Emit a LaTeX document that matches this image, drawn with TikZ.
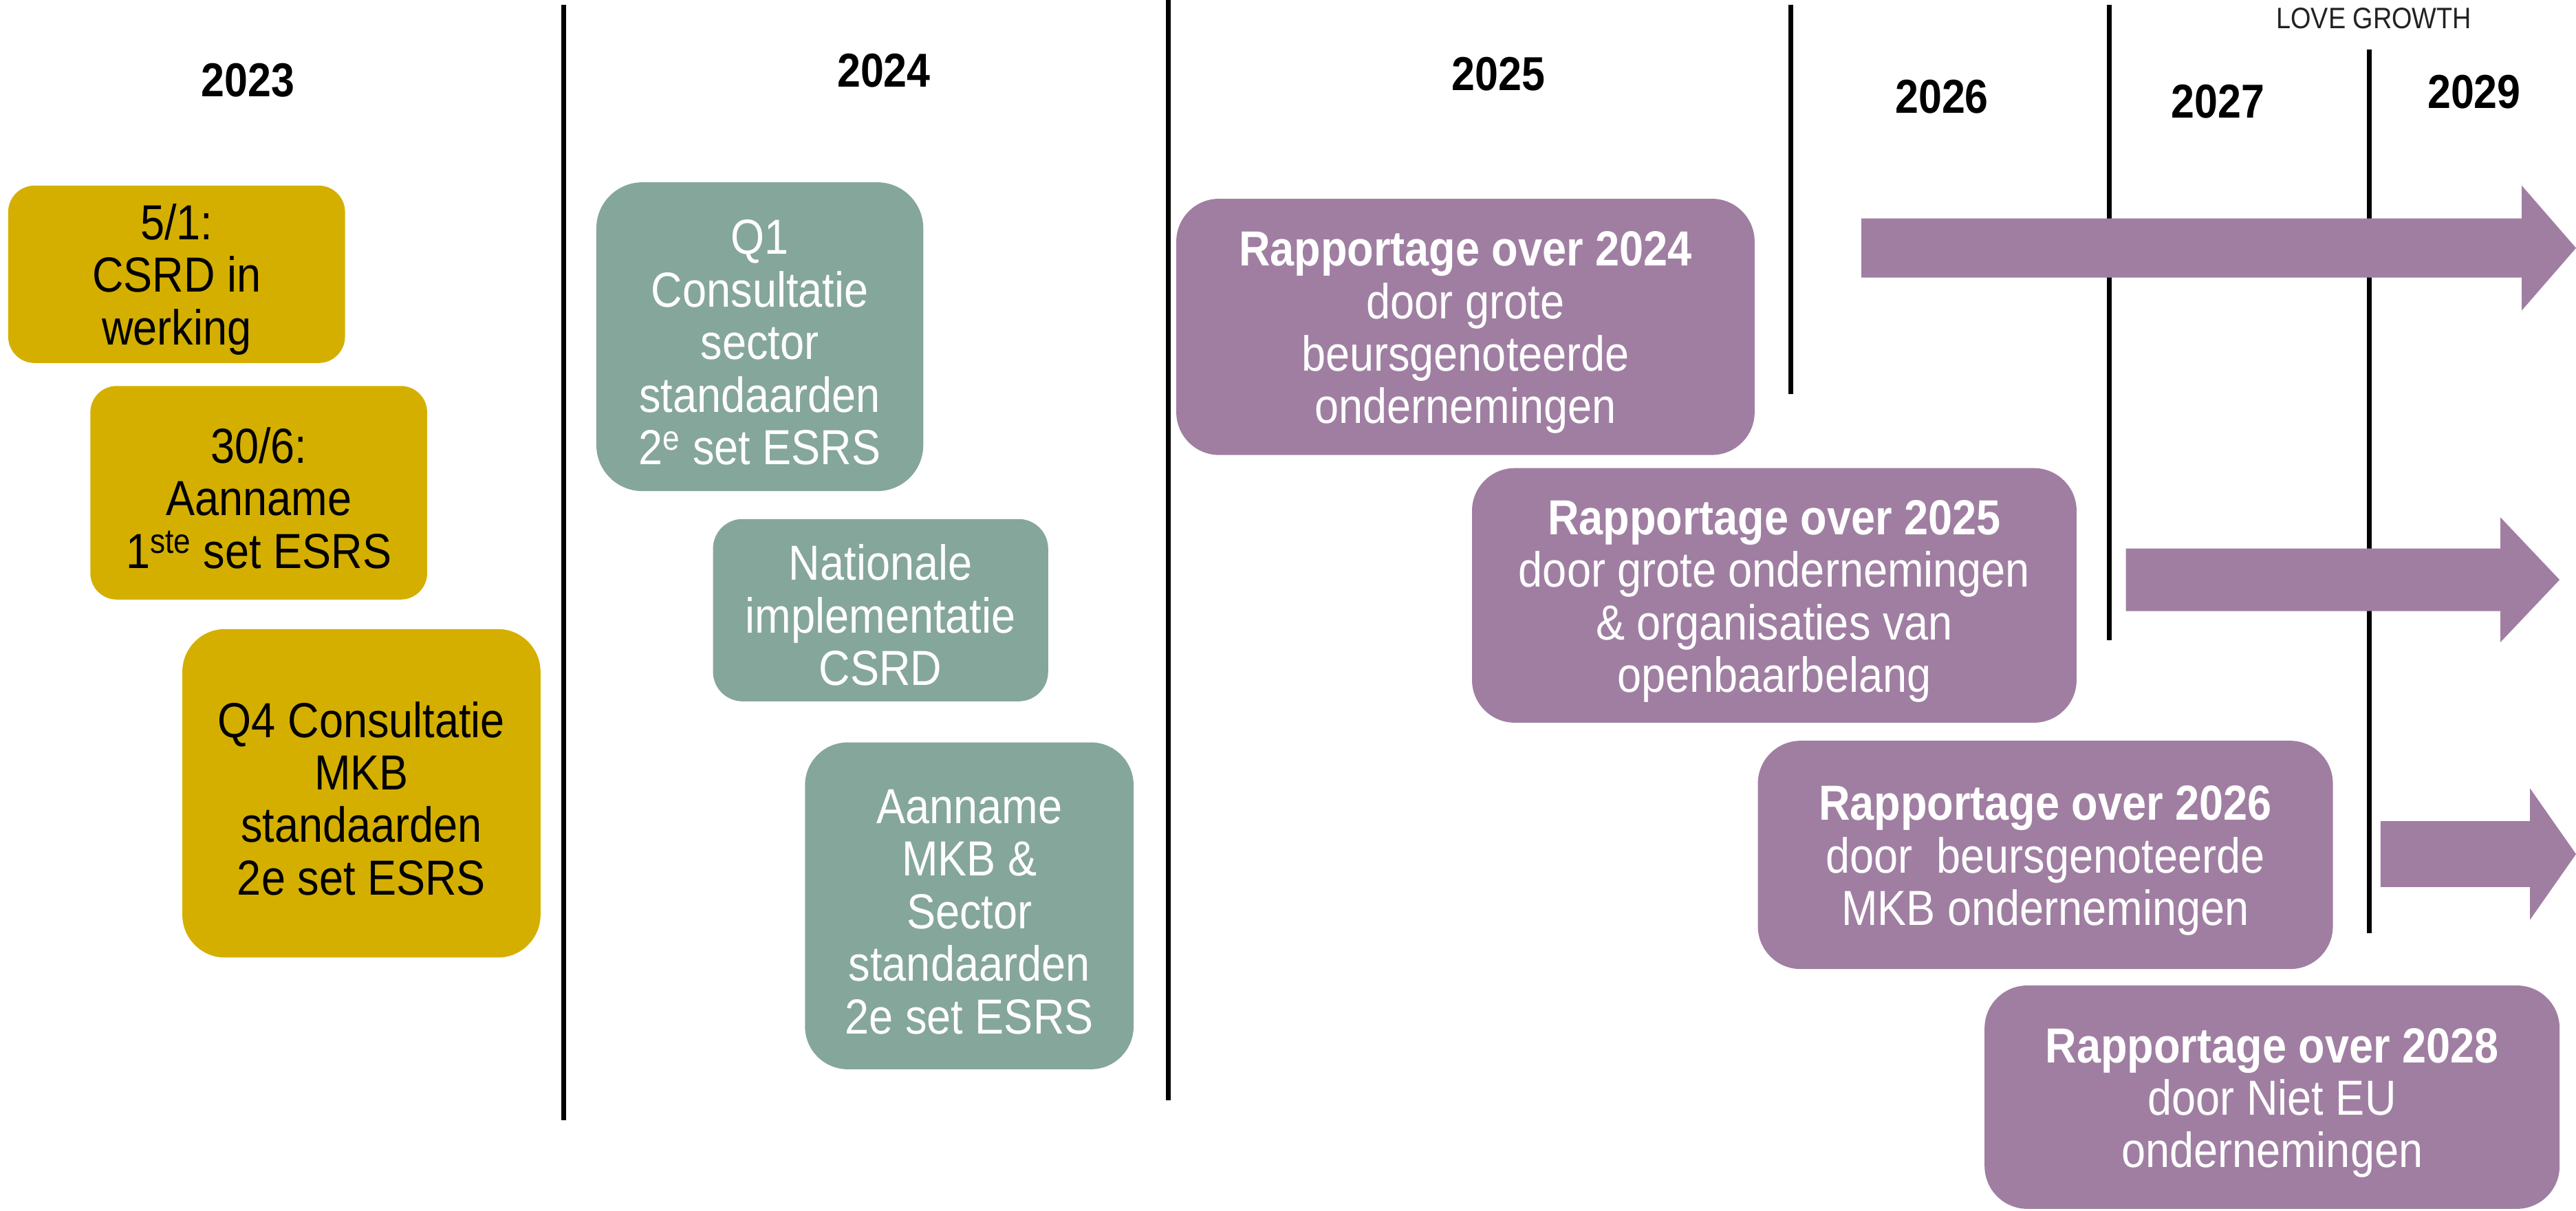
\documentclass[tikz,border=0pt]{standalone}
\usepackage{fontspec}
\setmainfont[FakeStretch=0.88]{Liberation Sans}
\definecolor{gold}{RGB}{212,175,0}
\definecolor{teal}{RGB}{133,166,155}
\definecolor{purp}{RGB}{160,126,162}
\definecolor{lovegray}{RGB}{34,34,34}
\newcommand{\fstrut}{\rule{0pt}{28pt}}
\tikzset{
  tlbox/.style={rectangle, rounded corners=#1, inner sep=0pt, align=center,
    font=\fontsize{30}{32}\selectfont},
  goldbox/.style={tlbox=16pt, fill=gold, text=black},
  tealbox/.style={tlbox=28pt, fill=teal, text=white},
  purpbox/.style={tlbox=26pt, fill=purp, text=white},
  yearlbl/.style={font=\fontsize{29}{32}\selectfont\bfseries, text=black, inner sep=0pt},
  divider/.style={line width=3pt, black},
  blockarrow/.style={fill=purp, draw=none}
}
\begin{document}
\begin{tikzpicture}[x=1pt,y=-1pt]
\useasboundingbox (0,0) rectangle (1568,737);
\fill[white] (0,0) rectangle (1568,737);

% dividers
\coordinate (l1a) at (343,3);   \coordinate (l1b) at (343,682);
\coordinate (l2a) at (711,0);   \coordinate (l2b) at (711,670);
\coordinate (l3a) at (1090,3);  \coordinate (l3b) at (1090,240);
\coordinate (l4a) at (1284,3);  \coordinate (l4b) at (1284,390);
\coordinate (l5a) at (1442,30); \coordinate (l5b) at (1442,568);
\draw[divider] (l1a) -- (l1b);
\draw[divider] (l2a) -- (l2b);
\draw[divider] (l3a) -- (l3b);
\draw[divider] (l4a) -- (l4b);
\draw[divider] (l5a) -- (l5b);

% year labels
\node[yearlbl] (y2023) at (151,49) {2023};
\node[yearlbl] (y2024) at (538,43) {2024};
\node[yearlbl] (y2025) at (912,45) {2025};
\node[yearlbl] (y2026) at (1182,59) {2026};
\node[yearlbl] (y2027) at (1350,62) {2027};
\node[yearlbl] (y2029) at (1506,56) {2029};
\node[font=\fontsize{18}{20}\selectfont, text=lovegray, inner sep=0pt] (love) at (1445,11) {LOVE GROWTH};

% arrows
\fill[blockarrow] (1133,133) -- (1535,133) -- (1535,113) -- (1568,151) -- (1535,189) -- (1535,169) -- (1133,169) -- cycle;
\fill[blockarrow] (1294,334) -- (1522,334) -- (1522,315) -- (1558,353) -- (1522,391) -- (1522,372) -- (1294,372) -- cycle;
\fill[blockarrow] (1449,500) -- (1540,500) -- (1540,480) -- (1568,520) -- (1540,560) -- (1540,540) -- (1449,540) -- cycle;

% gold boxes
\node[goldbox, minimum width=205pt, minimum height=108pt] (g1) at (107.5,167) {\fstrut 5/1:\\CSRD in\\werking};
\node[goldbox, minimum width=205pt, minimum height=130pt] (g2) at (157.5,300) {\fstrut 30/6:\\Aanname\\1\textsuperscript{ste} set ESRS};
\node[goldbox, tlbox=26pt, minimum width=218pt, minimum height=200pt] (g3) at (220,483) {\fstrut Q4 Consultatie\\MKB\\standaarden\\2e set ESRS};

% teal boxes
\node[tealbox, minimum width=199pt, minimum height=188pt] (t1) at (462.5,205) {\fstrut Q1\\Consultatie\\sector\\standaarden\\2\textsuperscript{e} set ESRS};
\node[tealbox, tlbox=18pt, minimum width=204pt, minimum height=111pt] (t2) at (536,371.5) {\fstrut Nationale\\implementatie\\CSRD};
\node[tealbox, tlbox=26pt, minimum width=200pt, minimum height=199pt] (t3) at (590,551.5) {\fstrut Aanname\\MKB \&\\Sector\\standaarden\\2e set ESRS};

% purple boxes
\node[purpbox, minimum width=352pt, minimum height=156pt] (p1) at (892,199) {\fstrut\textbf{Rapportage over 2024}\\door grote\\beursgenoteerde\\ondernemingen};
\node[purpbox, minimum width=368pt, minimum height=155pt] (p2) at (1080,362.5) {\fstrut\textbf{Rapportage over 2025}\\door grote ondernemingen\\\& organisaties van\\openbaarbelang};
\node[purpbox, minimum width=350pt, minimum height=139pt] (p3) at (1245,520.5) {\fstrut\textbf{Rapportage over 2026}\\door\ \ beursgenoteerde\\MKB ondernemingen};
\node[purpbox, minimum width=350pt, minimum height=136pt] (p4) at (1383,668) {\fstrut\textbf{Rapportage over 2028}\\door Niet EU\\ondernemingen};
\end{tikzpicture}
\end{document}
